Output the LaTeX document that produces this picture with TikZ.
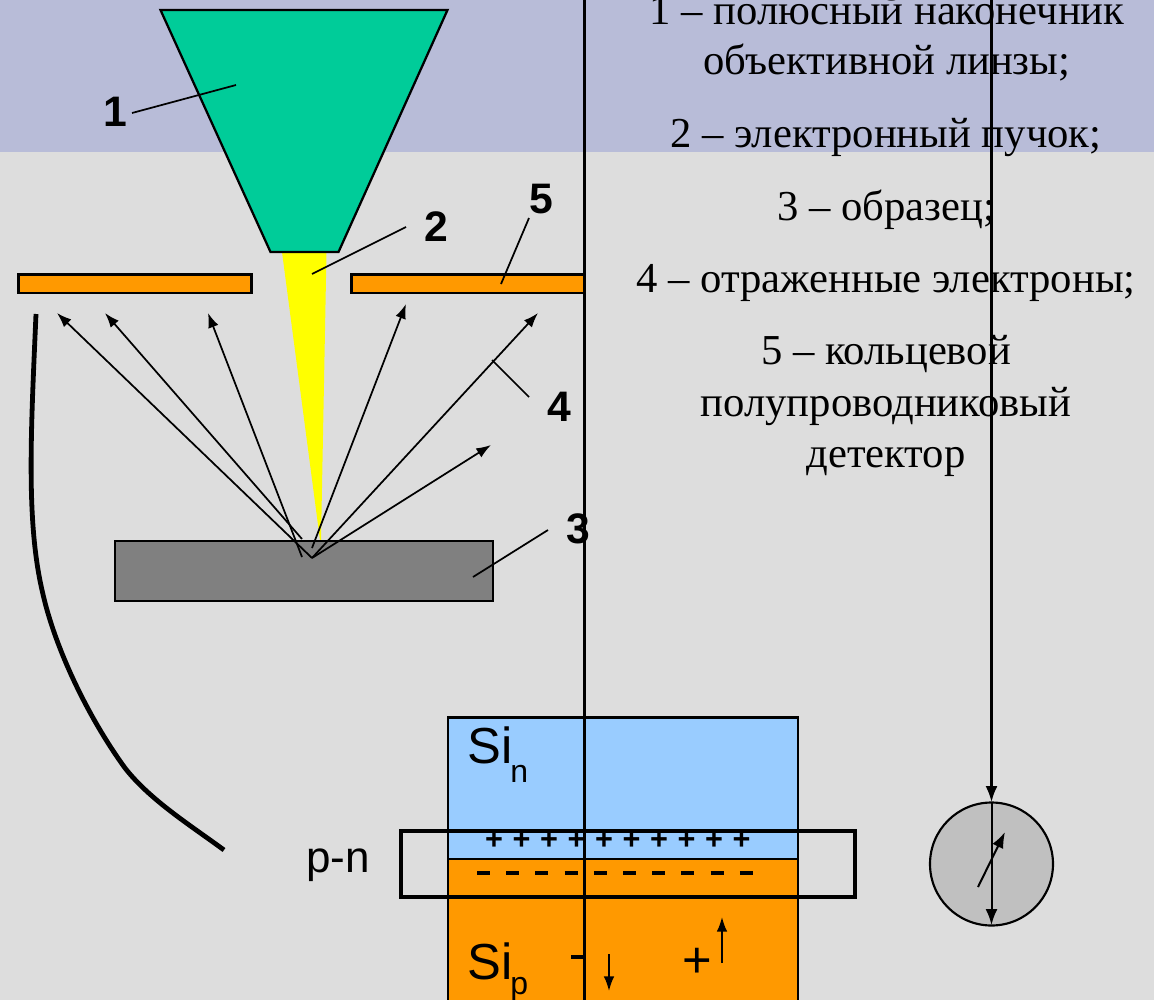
\documentclass[tikz,border=0pt]{standalone}
\usepackage{fontspec}
\setmainfont{Liberation Serif}
\newfontfamily\arialf{Liberation Sans}
\usetikzlibrary{arrows.meta}
\definecolor{bgtop}{HTML}{B8BCD8}
\definecolor{bgmain}{HTML}{DDDDDD}
\definecolor{cone}{HTML}{00CC99}
\definecolor{det}{HTML}{FF9900}
\definecolor{sin}{HTML}{99CCFF}
\definecolor{meter}{HTML}{C0C0C0}
\definecolor{beam}{RGB}{255,255,0}
\definecolor{sample}{RGB}{128,128,128}
\tikzset{
  x=0.75pt,y=-0.75pt,
  box/.style={draw=black,line width=1.7pt},
  ray/.style={draw=black,line width=1.3pt,-{Latex[length=11pt,width=8pt]}},
  lead/.style={draw=black,line width=1.3pt},
  wire/.style={draw=black,line width=1.6pt},
  num/.style={font=\arialf\bfseries\fontsize{32}{32}\selectfont,inner sep=0pt,text=black},
  captxt/.style={font=\fontsize{32}{32}\selectfont,inner sep=0pt,text=black,anchor=center},
  sil/.style={font=\arialf\fontsize{38}{38}\selectfont,inner sep=0pt,text=black},
  pntxt/.style={font=\arialf\fontsize{33}{33}\selectfont,inner sep=0pt,text=black},
  subtxt/.style={font=\arialf\fontsize{24}{24}\selectfont,inner sep=0pt,text=black},
  sgn/.style={font=\arialf\bfseries\fontsize{23}{23}\selectfont,inner sep=0pt,text=black},
}
\begin{document}
\begin{tikzpicture}
\useasboundingbox (0,0) rectangle (1154,1000);
\fill[bgmain] (0,0) rectangle (1154,1000);
\fill[bgtop] (0,0) rectangle (1154,152);
% cone, beam
\fill[beam] (282,252) -- (326.5,252) -- (321,540) -- (320,540) -- cycle;
\draw[box,fill=cone] (160.5,10) -- (447.5,10) -- (338.5,252) -- (270.5,252) -- cycle;
% detector plates
\draw[box,fill=det] (18.5,274.5) rectangle (251.5,293);
\draw[box,fill=det] (351.5,274.5) rectangle (584,293);
% sample
\draw[box,fill=sample] (115,541) rectangle (493,601);
% junction
\draw[box,fill=sin] (448,717.5) rectangle (798,859);
\fill[det] (448,859) rectangle (798,1003);
\draw[box] (448,1003) -- (448,859) -- (798,859) -- (798,1003);
% rays
\coordinate (hit) at (312,558);
\draw[ray] (hit) -- (57,313);
\draw[ray] (302,539) -- (105,313);
\draw[ray] (302,557) -- (208,313);
\draw[ray] (312,548) -- (406,304);
\draw[ray] (hit) -- (538,313);
\draw[ray] (hit) -- (491,445);
% numbers and leads
\node[num] (n1) at (115,112) {1};
\node[num] (n2) at (436,227) {2};
\node[num] (n3) at (578,529) {3};
\node[num] (n4) at (559,407) {4};
\node[num] (n5) at (541,199) {5};
\coordinate (t1) at (236,85);
\coordinate (t2) at (312,274);
\coordinate (t3) at (473,577);
\coordinate (t4) at (492,360);
\coordinate (t5) at (501,284);
\draw[lead] (132,113) -- (t1);
\draw[lead] (406,227) -- (t2);
\draw[lead] (548,530) -- (t3);
\draw[lead] (529,397) -- (t4);
\draw[lead] (529,218) -- (t5);
% thick curve
\draw[black,line width=3.6pt] (36,314) .. controls (31,430) and (26,520) .. (42,590)
  .. controls (55,650) and (90,720) .. (125,768) .. controls (150,800) and (190,825) .. (224,850);
% long vertical lines
\draw[wire] (584.5,0) -- (584.5,1000);
% p-n box
\draw[black,line width=2.6pt] (401,831) rectangle (855,897);
% texts in junction
\node[sil,anchor=west] (sin1) at (467,745) {Si};
\node[subtxt,anchor=west] (sinn) at (510,774) {n};
\node[sil,anchor=west] (sip1) at (467,961) {Si};
\node[subtxt,anchor=west] (sipp) at (510,989) {p};
\node[pntxt] (pn) at (338,865) {p-n};
\foreach \i in {0,...,9} {\node[sgn] at (494+27.5*\i,840) {+};}
\foreach \i in {0,...,9} {\draw[black,line width=3pt] (477+29.2*\i,872.5) -- (490+29.2*\i,872.5);}
\node[sil] (plus) at (697,963) {+};
\draw[black,line width=2.4pt] (571,957) -- (584,957);
\draw[black,line width=1.4pt,-{Latex[length=11pt,width=8pt]}] (609,954) -- (609,991);
\draw[black,line width=1.4pt,-{Latex[length=11pt,width=8pt]}] (722,963) -- (722,917);
% meter
\draw[black,line width=1.6pt,fill=meter] (991.5,864) circle (61.5);
\draw[wire,-{Latex[length=12pt,width=9pt]}] (991.5,0) -- (991.5,802);
\draw[black,line width=1.5pt,-{Latex[length=12pt,width=9pt]}] (991.5,802) -- (991.5,925);
\draw[black,line width=1.5pt,-{Latex[length=12pt,width=9pt]}] (978,887) -- (1005,832);
% captions
\node[captxt] (c1) at (887,10) {1 – полюсный наконечник};
\node[captxt] (c1b) at (887,63) {объективной линзы;};
\node[captxt] (c2) at (886,137) {2 – электронный пучок;};
\node[captxt] (c3) at (886,210) {3 – образец;};
\node[captxt] (c4) at (886,283) {4 – отраженные электроны;};
\node[captxt] (c5) at (886,354) {5 – кольцевой};
\node[captxt] (c5b) at (886,406) {полупроводниковый};
\node[captxt] (c5c) at (886,462) {детектор};
\end{tikzpicture}
\end{document}
